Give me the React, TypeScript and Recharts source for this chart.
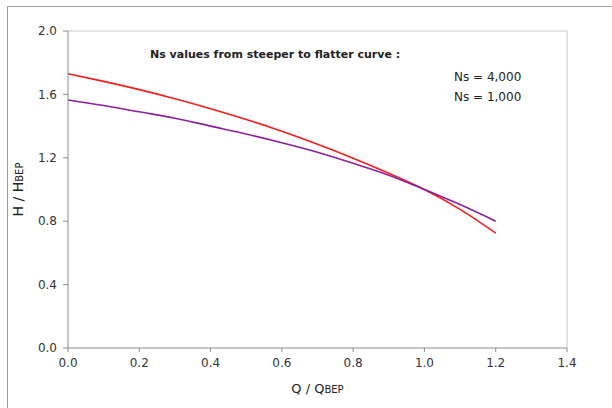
import { LineChart, Line, XAxis, YAxis, ReferenceLine } from "recharts";

// Q / Q_BEP sample points
const flowRatio = [0, 0.1, 0.2, 0.3, 0.4, 0.5, 0.6, 0.7, 0.8, 0.9, 1.0, 1.1, 1.2];
// H / H_BEP for each specific speed
const headNs4000 = [1.73, 1.682, 1.63, 1.573, 1.51, 1.442, 1.367, 1.285, 1.197, 1.102, 1.0, 0.875, 0.725];
const headNs1000 = [1.565, 1.53, 1.49, 1.45, 1.4, 1.35, 1.295, 1.235, 1.165, 1.09, 1.0, 0.905, 0.8];

const xTicks = [0, 0.2, 0.4, 0.6, 0.8, 1.0, 1.2, 1.4];
const yTicks = [0, 0.4, 0.8, 1.2, 1.6, 2.0];

const data = flowRatio.map((q, i) => ({ q, ns4000: headNs4000[i], ns1000: headNs1000[i] }));

const FONT = "'DejaVu Sans', Verdana, sans-serif";
const axisColor = "#8c8c8c";

const XLabel = ({ viewBox }: any) => {
  const cx = viewBox.x + viewBox.width / 2;
  return (
    <text x={cx} y={393} textAnchor="middle" fontFamily={FONT} fontSize={13} fill="#222">
      <tspan>Q / Q</tspan>
      <tspan fontSize={10}>BEP</tspan>
    </text>
  );
};

const YLabel = ({ viewBox }: any) => {
  const cy = viewBox.y + viewBox.height / 2;
  return (
    <text
      x={23}
      y={cy}
      textAnchor="middle"
      transform={`rotate(-90, 23, ${cy})`}
      fontFamily={FONT}
      fontSize={14}
      fill="#222"
    >
      <tspan>H / H</tspan>
      <tspan fontSize={10}>BEP</tspan>
    </text>
  );
};

export default function App() {
  return (
    <div
      style={{
        position: "fixed",
        left: 0,
        top: 0,
        width: 612,
        height: 408,
        background: "#fff",
        fontFamily: FONT,
        overflow: "hidden",
      }}
    >
      <LineChart
        width={612}
        height={408}
        data={data}
        margin={{ top: 31, right: 45, bottom: 20, left: 8 }}
      >
        <XAxis
          dataKey="q"
          type="number"
          domain={[0, 1.4]}
          ticks={xTicks}
          tickFormatter={(v) => v.toFixed(1)}
          tick={{ fontSize: 12, fill: "#333", fontFamily: FONT }}
          tickSize={4}
          tickMargin={6}
          stroke={axisColor}
          height={40}
          label={<XLabel />}
        />
        <YAxis
          type="number"
          domain={[0, 2]}
          ticks={yTicks}
          tickFormatter={(v) => v.toFixed(1)}
          tick={{ fontSize: 12, fill: "#333", fontFamily: FONT }}
          tickSize={5}
          tickMargin={6}
          stroke={axisColor}
          width={60}
          label={<YLabel />}
        />
        <ReferenceLine y={2} stroke="#c8c8c8" />
        <ReferenceLine x={1.4} stroke="#c8c8c8" />
        <Line
          type="monotone"
          dataKey="ns4000"
          stroke="#ff1a1a"
          strokeWidth={1.6}
          dot={false}
          isAnimationActive={false}
        />
        <Line
          type="monotone"
          dataKey="ns1000"
          stroke="#8b1f9e"
          strokeWidth={1.6}
          dot={false}
          isAnimationActive={false}
        />
      </LineChart>
      {/* outer frame of the chart sheet: left and top edges only */}
      <svg
        width={612}
        height={408}
        style={{ position: "absolute", left: 0, top: 0, pointerEvents: "none" }}
      >
        <line x1={7.5} y1={7} x2={7.5} y2={408} stroke="#a0a0a0" strokeWidth={1} />
        <line x1={7} y1={6.5} x2={612} y2={6.5} stroke="#a0a0a0" strokeWidth={1} />
      </svg>
      <div
        style={{
          position: "absolute",
          left: 150,
          top: 48,
          fontSize: 11,
          fontWeight: "bold",
          color: "#222",
          whiteSpace: "nowrap",
        }}
      >
        Ns values from steeper to flatter curve :
      </div>
      <div
        style={{
          position: "absolute",
          left: 454,
          top: 67,
          fontSize: 12,
          lineHeight: "20px",
          color: "#222",
          whiteSpace: "nowrap",
        }}
      >
        <div>Ns = 4,000</div>
        <div>Ns = 1,000</div>
      </div>
    </div>
  );
}
